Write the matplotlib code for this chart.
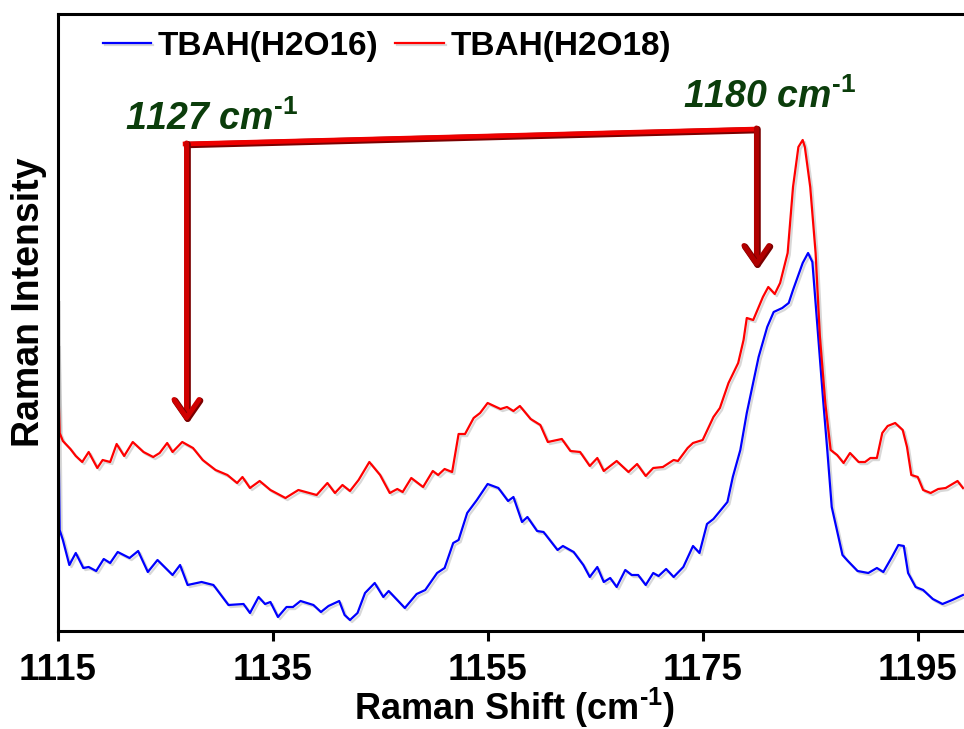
import matplotlib
matplotlib.use("Agg")
import matplotlib.pyplot as plt
import matplotlib.patheffects as pe

plt.rcParams["font.family"] = ["Liberation Sans", "DejaVu Sans"]
plt.rcParams["font.weight"] = "bold"
plt.rcParams["mathtext.fontset"] = "custom"
plt.rcParams["mathtext.rm"] = "Liberation Sans:bold"
plt.rcParams["mathtext.bf"] = "Liberation Sans:bold"
plt.rcParams["mathtext.it"] = "Liberation Sans:bold:italic"

# Raman spectra, TBAH in H2(16)O and H2(18)O (intensity in arbitrary units)
shift_h2o18 = [
    1115.0, 1115.1, 1115.2, 1115.5, 1116.2, 1116.7, 1117.3, 1117.9, 1118.7, 1119.2,
    1119.9, 1120.5, 1121.2, 1122.0, 1123.0, 1123.9, 1124.5, 1125.2, 1125.7, 1126.6,
    1127.6, 1128.5, 1129.7, 1130.8, 1131.7, 1132.2, 1132.9, 1133.8, 1134.8, 1136.2,
    1137.4, 1139.1, 1140.1, 1140.8, 1141.5, 1142.2, 1143.0, 1144.0, 1145.0, 1145.9,
    1146.6, 1147.1, 1147.9, 1149.0, 1149.9, 1150.4, 1151.0, 1151.7, 1152.3, 1152.9,
    1153.7, 1154.3, 1155.0, 1156.2, 1156.8, 1157.4, 1158.0, 1159.0, 1159.9, 1160.6,
    1161.9, 1162.7, 1163.6, 1164.5, 1165.2, 1165.8, 1167.0, 1168.1, 1168.9, 1169.7,
    1170.4, 1171.3, 1172.3, 1172.7, 1173.6, 1174.1, 1175.0, 1176.0, 1176.6, 1177.4,
    1178.3, 1178.8, 1179.1, 1179.7, 1180.6, 1181.1, 1181.7, 1182.2, 1182.9, 1183.4,
    1183.9, 1184.3, 1184.5, 1185.0, 1185.5, 1185.9, 1186.4, 1186.9, 1187.5, 1188.1,
    1188.7, 1189.5, 1190.1, 1190.6, 1191.2, 1191.7, 1192.2, 1192.9, 1193.6, 1194.0,
    1194.4, 1195.0, 1195.5, 1196.2, 1196.9, 1197.6, 1198.7, 1199.2,
]
int_h2o18 = [
    286, 236, 198, 190, 182, 175, 169, 179, 163, 171,
    169, 187, 175, 189, 179, 174, 178, 188, 179, 189,
    183, 171, 161, 156, 148, 154, 143, 150, 141, 133,
    141, 136, 148, 138, 146, 140, 151, 169, 156, 138,
    142, 139, 153, 144, 160, 156, 162, 159, 197, 197,
    213, 218, 228, 222, 224, 220, 225, 212, 206, 189,
    192, 180, 179, 165, 173, 160, 170, 159, 167, 155,
    163, 164, 171, 170, 183, 188, 191, 214, 223, 248,
    268, 291, 313, 311, 334, 344, 337, 348, 378, 444,
    484, 491, 484, 444, 378, 294, 228, 181, 176, 168,
    178, 169, 169, 173, 173, 198, 205, 208, 201, 184,
    156, 154, 141, 138, 142, 143, 150, 143,
]

shift_h2o16 = [
    1115.0, 1115.1, 1115.2, 1115.5, 1116.1, 1116.7, 1117.4, 1117.9, 1118.6, 1119.3,
    1119.9, 1120.6, 1121.7, 1122.5, 1123.4, 1124.3, 1125.7, 1126.4, 1127.1, 1128.4,
    1129.5, 1130.9, 1132.3, 1132.9, 1133.7, 1134.3, 1134.8, 1135.5, 1136.3, 1136.9,
    1137.6, 1138.8, 1139.5, 1140.2, 1141.2, 1141.7, 1142.2, 1142.9, 1143.6, 1144.5,
    1145.3, 1145.8, 1147.3, 1148.4, 1149.2, 1150.3, 1151.0, 1151.8, 1152.3, 1153.1,
    1154.0, 1155.0, 1156.0, 1156.9, 1157.4, 1158.2, 1158.7, 1159.6, 1160.2, 1161.5,
    1162.0, 1163.0, 1163.9, 1164.5, 1165.2, 1165.8, 1166.4, 1167.0, 1167.8, 1168.4,
    1169.0, 1169.7, 1170.4, 1170.9, 1171.6, 1172.3, 1173.2, 1174.1, 1174.7, 1175.4,
    1176.0, 1177.3, 1177.8, 1178.5, 1179.1, 1180.2, 1181.0, 1181.6, 1182.4, 1183.0,
    1183.4, 1184.3, 1184.8, 1185.2, 1185.6, 1186.2, 1186.6, 1187.0, 1188.0, 1188.5,
    1189.4, 1190.4, 1191.2, 1191.8, 1192.6, 1193.2, 1193.7, 1194.1, 1194.8, 1195.5,
    1196.4, 1197.3, 1198.2, 1199.2,
]
int_h2o16 = [
    331, 191, 101, 91, 66, 78, 63, 64, 60, 72,
    68, 79, 73, 80, 59, 71, 56, 66, 46, 49,
    46, 26, 27, 18, 34, 27, 29, 14, 24, 24,
    30, 26, 19, 25, 30, 16, 11, 18, 38, 48,
    34, 40, 23, 37, 41, 58, 63, 88, 91, 118,
    131, 147, 143, 130, 134, 109, 114, 100, 99, 81,
    85, 79, 66, 54, 64, 49, 53, 44, 61, 56,
    56, 46, 58, 55, 62, 54, 64, 85, 78, 107,
    112, 129, 154, 181, 218, 274, 304, 319, 323, 328,
    341, 368, 378, 369, 314, 231, 179, 124, 76, 70,
    60, 58, 63, 59, 74, 86, 85, 58, 44, 41,
    32, 27, 31, 36,
]

series_labels = ["TBAH(H2O16)", "TBAH(H2O18)"]
series_colors = ["#0000ff", "#ff0000"]

# marked band positions (cm-1) and the arrow extents in intensity units
band_shifts = [1127, 1180]
arrow_tops = [487, 502]
arrow_tips = [209, 363]
band_text_pos = [(1121.3, 501), (1173.2, 523)]

xticks = [1115, 1135, 1155, 1175, 1195]

W, H = 964, 729
fig = plt.figure(figsize=(W / 100, H / 100), dpi=100)
ax = fig.add_axes([57.5 / W, 98 / H, 1 - 57.5 / W, 617 / H])

shadow = [pe.SimpleLineShadow(offset=(1.5, -1.5), shadow_color="0.4", alpha=0.25), pe.Normal()]
ax.plot(shift_h2o16, int_h2o16, color=series_colors[0], lw=1.6, solid_joinstyle="round",
        label=series_labels[0], path_effects=shadow)
ax.plot(shift_h2o18, int_h2o18, color=series_colors[1], lw=1.6, solid_joinstyle="round",
        label=series_labels[1], path_effects=shadow)

ax.set_xlim(1115, 1199.3)
ax.set_ylim(0, 617)
ax.set_xticks(xticks)
ax.set_yticks([])
ax.tick_params(axis="x", direction="out", length=7, width=2.2, pad=9, labelsize=26.5)
for lab in ax.get_xticklabels():
    lab.set_fontweight("bold")
ax.spines["right"].set_visible(False)
for side in ("left", "bottom", "top"):
    ax.spines[side].set_linewidth(2.2)

# bracket joining the two bands, with arrows down onto each band
bevel = [pe.Stroke(linewidth=4.6, foreground="#7a0000", offset=(0.8, -0.8)), pe.Normal()]
ax.plot([band_shifts[0] - 0.35, band_shifts[1] + 0.2], [arrow_tops[0], arrow_tops[1]],
        color="#ee0000", lw=3.4, solid_capstyle="butt", path_effects=bevel, zorder=4)
for x, top, tip, col in zip(band_shifts, arrow_tops, arrow_tips, ["#d00000", "#b00000"]):
    ax.annotate("", xy=(x, tip), xytext=(x, top + 1),
                arrowprops=dict(arrowstyle="->,head_length=0.65,head_width=0.45",
                                color=col, lw=3.6, mutation_scale=20,
                                shrinkA=0, shrinkB=0, path_effects=bevel),
                zorder=5)

for (tx, ty), x in zip(band_text_pos, band_shifts):
    ax.text(tx, ty, f"{x} cm$^{{\\mathit{{\\text{{-1}}}}}}$", fontsize=27, fontweight="bold",
            fontstyle="italic", color="#0b3d0b", ha="left", va="baseline", zorder=6)

ax.legend(loc="upper left", bbox_to_anchor=(103 / W, 1 - 31 / H),
          bbox_transform=fig.transFigure, ncol=2, frameon=False,
          prop=dict(size=24, weight="bold"), handlelength=1.45,
          handletextpad=0.2, columnspacing=0.5, borderpad=0, borderaxespad=0)

fig.text(515 / W, 9 / H, "Raman Shift (cm$^{\\text{-1}}$)", fontsize=26, fontweight="bold",
         ha="center", va="baseline")
fig.text(29 / W, 1 - 302.5 / H, "Raman Intensity", fontsize=27, fontweight="bold",
         rotation=90, ha="center", va="center")

fig.savefig("out.png", dpi=100)
